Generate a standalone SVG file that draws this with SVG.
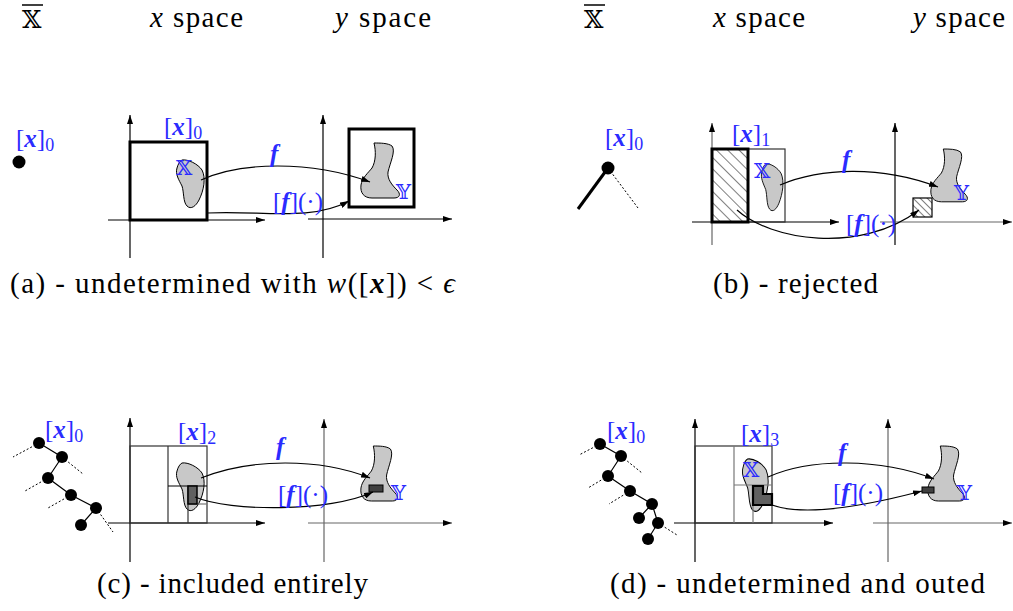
<svg xmlns="http://www.w3.org/2000/svg" width="1013" height="611" viewBox="0 0 1013 611">
<style>
.ax{stroke:#000;stroke-width:1.2;fill:none;marker-end:url(#ah)}
.axg{stroke:#666}
.thick{stroke:#000;stroke-width:3;fill:none}
.thin{stroke:#333;stroke-width:1.2;fill:none}
.gl{stroke:#777;stroke-width:1.2;fill:none}
.lbl{font-family:'Liberation Serif','DejaVu Serif',serif;fill:#2b2bff;font-size:25px}
.ds{font-family:'DejaVu Serif','DejaVu Sans',serif;fill:#2b2bff;font-size:21px}
.hd{font-family:'Liberation Serif','DejaVu Serif',serif;fill:#000;font-size:29px}
.cap{font-family:'Liberation Serif','DejaVu Serif',serif;font-size:29px;fill:#000}
.blob{fill:#c8c8c8;stroke:#000;stroke-width:1}
.conn{fill:none;stroke:#000;stroke-width:1.2;marker-end:url(#ah)}
.tree{stroke:#000;stroke-width:1.2}
.dot{stroke:#000;stroke-width:1;stroke-dasharray:2 2}
.bi{font-weight:bold;font-style:italic}
.it{font-style:italic}
</style>
<defs>
<marker id="ah" markerUnits="userSpaceOnUse" markerWidth="9" markerHeight="6" refX="9" refY="3" orient="auto"><path d="M0,0 L9,3 L0,6 z" fill="#000"/></marker>
<pattern id="h1" patternUnits="userSpaceOnUse" width="8" height="8" patternTransform="rotate(-45)"><line x1="0" y1="0" x2="0" y2="8" stroke="#000" stroke-width="1"/></pattern>
<pattern id="h2" patternUnits="userSpaceOnUse" width="5" height="5" patternTransform="rotate(-45)"><line x1="0" y1="0" x2="0" y2="5" stroke="#000" stroke-width="1"/></pattern>
<path id="bx" d="M 6 0 C 12 -1, 22 4, 26 10 C 30 18, 28 30, 23 40 C 20 46, 15 50, 11 46 C 7 42, 8 32, 6 26 C 3 20, -1 14, 1 8 C 2 4, 4 1, 6 0 Z"/>
<path id="by" d="M 14 0 C 20 0, 28 0, 32 3 C 36 8, 30 20, 28 29 C 27 36, 32 42, 37 47 C 41 51, 40 55, 34 55 L 12 55 C 4 55, 0 50, 1 42 C 2 35, 8 30, 12 25 C 16 18, 16 8, 14 0 Z"/>
</defs>

<g id="headers">
<text x="22" y="28" font-family="DejaVu Serif, DejaVu Sans, serif" font-size="25">𝕏</text>
<line x1="22" y1="5" x2="43" y2="5" stroke="#000" stroke-width="1.5"/>
<text class="hd" x="150" y="27" textLength="93"><tspan class="it">x</tspan> space</text>
<text class="hd" x="335" y="27" textLength="96"><tspan class="it">y</tspan> space</text>
<text x="584" y="28" font-family="DejaVu Serif, DejaVu Sans, serif" font-size="25">𝕏</text>
<line x1="584" y1="5" x2="605" y2="5" stroke="#000" stroke-width="1.5"/>
<text class="hd" x="713" y="27" textLength="92"><tspan class="it">x</tspan> space</text>
<text class="hd" x="913" y="27" textLength="92"><tspan class="it">y</tspan> space</text>
</g>

<!-- Panel (a) -->
<g id="panel-a">
<g id="a-tree"><circle cx="19" cy="162" r="6.5" fill="#000"/>
<text class="lbl" x="16" y="147">[<tspan class="bi">x</tspan>]<tspan font-size="18" dy="4">0</tspan></text></g>
<g id="a-xspace">
<line class="ax" x1="130" y1="258" x2="130" y2="115"/>
<line class="ax" x1="108" y1="220" x2="265" y2="220"/>
<rect class="thick" x="130" y="142" width="77" height="78"/>
<text class="lbl" x="164" y="135">[<tspan class="bi">x</tspan>]<tspan font-size="18" dy="4">0</tspan></text>
<use href="#bx" class="blob" transform="translate(176,160)"/>
<text class="ds" x="176" y="175">𝕏</text>
</g>
<g id="a-yspace">
<line class="ax" x1="323" y1="258" x2="323" y2="115"/>
<line class="ax" x1="308" y1="219" x2="452" y2="219"/>
<rect class="thick" x="349" y="129" width="65" height="78"/>
<use href="#by" class="blob" transform="translate(360,143)"/>
<text class="ds" x="396" y="199">𝕐</text>
</g>
</g>

<!-- Panel (b) -->
<g id="panel-b">
<g id="b-tree">
<line x1="608" y1="168" x2="578" y2="209" stroke="#000" stroke-width="3"/>
<line class="dot" x1="608" y1="168" x2="638" y2="208"/>
<circle cx="608" cy="168" r="6.5" fill="#000"/>
<text class="lbl" x="605" y="146">[<tspan class="bi">x</tspan>]<tspan font-size="18" dy="4">0</tspan></text>
</g>
<g id="b-xspace">
<line class="ax axg" x1="712" y1="245" x2="712" y2="123"/>
<line class="ax" x1="692" y1="222" x2="839" y2="222"/>
<rect x="748" y="149" width="37" height="73" class="thin"/>
<rect x="712" y="149" width="36" height="73" fill="url(#h1)" stroke="#000" stroke-width="3"/>
<text class="lbl" x="732" y="142">[<tspan class="bi">x</tspan>]<tspan font-size="18" dy="4">1</tspan></text>
<use href="#bx" class="blob" transform="translate(761,164) scale(0.78,0.98)"/>
<text class="ds" x="754" y="178">𝕏</text>
</g>
<g id="b-yspace">
<line class="ax" x1="895" y1="245" x2="895" y2="123"/>
<line class="ax axg" x1="880" y1="222" x2="1012" y2="222"/>
<use href="#by" class="blob" transform="translate(930,149) scale(0.95,0.96)"/>
<rect x="913" y="198" width="19" height="19" fill="url(#h2)" stroke="#000" stroke-width="1.2"/>
<text class="ds" x="954" y="200">𝕐</text>
</g>
</g>

<!-- Panel (c) -->
<g id="panel-c">
<g id="c-tree">
<line class="dot" x1="39" y1="443" x2="13" y2="457"/>
<line class="dot" x1="62" y1="457" x2="83" y2="474"/>
<line class="dot" x1="48" y1="478" x2="25" y2="491"/>
<line class="dot" x1="71" y1="495" x2="48" y2="508"/>
<line class="dot" x1="96" y1="508" x2="113" y2="532"/>
<polyline class="tree" fill="none" points="39,443 62,457 48,478 71,495 96,508 81,525"/>
<g fill="#000"><circle cx="39" cy="443" r="6"/><circle cx="62" cy="457" r="6"/><circle cx="48" cy="478" r="6"/><circle cx="71" cy="495" r="6"/><circle cx="96" cy="508" r="6"/><circle cx="81" cy="525" r="6"/></g>
<text class="lbl" x="45" y="438">[<tspan class="bi">x</tspan>]<tspan font-size="18" dy="4">0</tspan></text>
</g>
<g id="c-xspace">
<line class="ax" x1="130" y1="562" x2="130" y2="418"/>
<line class="ax" x1="108" y1="523" x2="265" y2="523"/>
<use href="#bx" class="blob" transform="translate(176,463)"/>
<rect x="130" y="446" width="77" height="77" class="thin"/>
<line class="thin" x1="168" y1="446" x2="168" y2="523"/>
<line x1="168" y1="486" x2="207" y2="486" stroke="#000" stroke-width="1.2"/>
<line class="thin" x1="188" y1="486" x2="188" y2="523"/>
<line class="gl" x1="188" y1="504" x2="207" y2="504"/>
<rect x="188" y="486" width="9" height="18" fill="#606060" stroke="#000" stroke-width="1.5"/>
<text class="lbl" x="178" y="440">[<tspan class="bi">x</tspan>]<tspan font-size="18" dy="4">2</tspan></text>
</g>
<g id="c-yspace">
<line class="ax axg" x1="324" y1="562" x2="324" y2="419"/>
<line class="ax axg" x1="308" y1="523" x2="452" y2="523"/>
<use href="#by" class="blob" transform="translate(360,446) scale(0.95,1)"/>
<rect x="369" y="485" width="14" height="7" fill="#404040" stroke="#000" stroke-width="1"/>
<text class="ds" x="391" y="500">𝕐</text>
</g>
</g>

<!-- Panel (d) -->
<g id="panel-d">
<g id="d-tree">
<line class="dot" x1="600" y1="444" x2="579" y2="455"/>
<line class="dot" x1="621" y1="456" x2="642" y2="473"/>
<line class="dot" x1="608" y1="476" x2="588" y2="488"/>
<line class="dot" x1="630" y1="491" x2="609" y2="504"/>
<line class="dot" x1="658" y1="523" x2="677" y2="535"/>
<polyline class="tree" fill="none" points="600,444 621,456 608,476 630,491 652,504 639,518"/>
<polyline class="tree" fill="none" points="652,504 658,523 648,539"/>
<g fill="#000"><circle cx="600" cy="444" r="6"/><circle cx="621" cy="456" r="6"/><circle cx="608" cy="476" r="6"/><circle cx="630" cy="491" r="6"/><circle cx="652" cy="504" r="6"/><circle cx="639" cy="518" r="6"/><circle cx="658" cy="523" r="6"/><circle cx="648" cy="539" r="6"/></g>
<text class="lbl" x="607" y="439">[<tspan class="bi">x</tspan>]<tspan font-size="18" dy="4">0</tspan></text>
</g>
<g id="d-xspace">
<line class="ax" x1="695" y1="562" x2="695" y2="419"/>
<line class="ax" x1="674" y1="523" x2="833" y2="523"/>
<use href="#bx" class="blob" transform="translate(742,459) scale(0.93,1.1)"/>
<rect x="695" y="446" width="77" height="77" class="thin" stroke="#000"/>
<line class="gl" x1="734" y1="446" x2="734" y2="523"/>
<line class="gl" x1="734" y1="485" x2="772" y2="485"/>
<line class="gl" x1="753" y1="485" x2="753" y2="523"/>
<path d="M753,486 L763,486 L763,494 L772,494 L772,505 L753,505 Z" fill="#606060" stroke="#000" stroke-width="2.2"/>
<text class="lbl" x="741" y="442">[<tspan class="bi">x</tspan>]<tspan font-size="18" dy="4">3</tspan></text>
<text class="ds" x="743" y="477">𝕏</text>
</g>
<g id="d-yspace">
<line class="ax axg" x1="888" y1="562" x2="888" y2="419"/>
<line class="ax axg" x1="873" y1="523" x2="1012" y2="523"/>
<use href="#by" class="blob" transform="translate(927,446) scale(0.95,1)"/>
<rect x="922" y="487" width="12" height="6" fill="#404040" stroke="#000" stroke-width="1"/>
<text class="ds" x="957" y="500">𝕐</text>
</g>
</g>

<g id="connectors">
<path class="conn" d="M 201 180 C 240 162, 310 160, 370 182"/>
<path class="conn" d="M 207 213 C 260 210, 310 222, 349 201"/>
<path class="conn" d="M 780 185 C 820 168, 880 165, 938 187"/>
<path class="conn" d="M 737 210 C 770 240, 860 255, 919 210"/>
<path class="conn" d="M 201 478 C 250 458, 320 458, 370 478"/>
<path class="conn" d="M 195 497 C 230 512, 330 512, 373 492"/>
<path class="conn" d="M 768 477 C 810 458, 880 458, 934 479"/>
<path class="conn" d="M 772 505 C 800 515, 850 510, 922 491"/>
</g>

<g id="connector-labels">
<text class="lbl bi" x="270" y="162">f</text>
<text class="lbl" x="273" y="210">[<tspan class="bi">f</tspan>](·)</text>
<text class="lbl bi" x="842" y="168">f</text>
<text class="lbl" x="846" y="232">[<tspan class="bi">f</tspan>](·)</text>
<text class="lbl bi" x="276" y="455">f</text>
<text class="lbl" x="278" y="503">[<tspan class="bi">f</tspan>](·)</text>
<text class="lbl bi" x="838" y="461">f</text>
<text class="lbl" x="833" y="501">[<tspan class="bi">f</tspan>](·)</text>
</g>

<g id="captions">
<text class="cap" x="10" y="293" textLength="445">(a) - undetermined with <tspan class="it">w</tspan>([<tspan class="bi">x</tspan>]) &lt; <tspan class="it">ϵ</tspan></text>
<text class="cap" x="713" y="293" textLength="165">(b) - rejected</text>
<text class="cap" x="97" y="593" textLength="271">(c) - included entirely</text>
<text class="cap" x="610" y="593" textLength="375">(d) - undetermined and outed</text>
</g>
</svg>
